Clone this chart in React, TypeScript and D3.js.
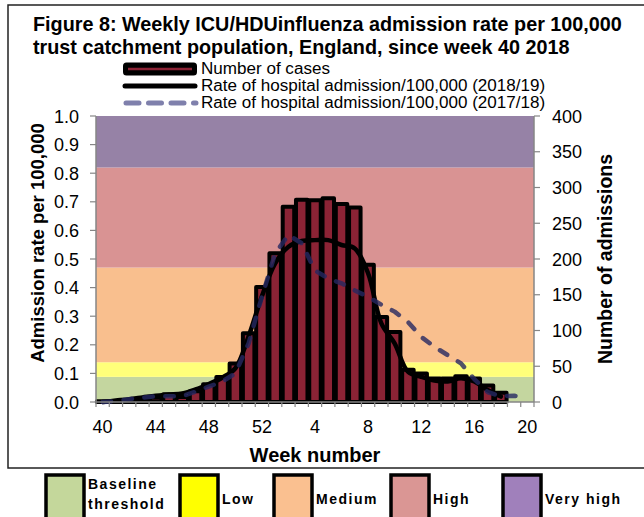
import React from "react";
import * as d3 from "d3";

// week categories, 2018/19 season
const weeks = [40, 41, 42, 43, 44, 45, 46, 47, 48, 49, 50, 51, 52, 1, 2, 3, 4, 5, 6, 7, 8, 9, 10, 11, 12, 13, 14, 15, 16, 17, 18, 19, 20];

// number of ICU/HDU admissions (right axis)
const cases = [1, 1, 2, 3, 6, 11, 7, 15, 25, 35, 54, 96, 161, 208, 273, 283, 282, 285, 277, 272, 192, 119, 98, 45, 40, 33, 33, 36, 33, 23, 13, null, null];

// rate per 100,000 (left axis)
const rate1819 = [0.0, 0.005, 0.01, 0.016, 0.022, 0.026, 0.03, 0.044, 0.063, 0.085, 0.118, 0.23, 0.37, 0.485, 0.543, 0.563, 0.566, 0.566, 0.549, 0.537, 0.45, 0.275, 0.205, 0.106, 0.088, 0.075, 0.072, 0.083, 0.072, 0.042, 0.019, null, null];
const rate1718 = [0.0, 0.003, 0.01, 0.015, 0.02, 0.02, 0.02, 0.036, 0.054, 0.071, 0.1, 0.205, 0.368, 0.52, 0.584, 0.555, 0.46, 0.432, 0.415, 0.39, 0.368, 0.34, 0.316, 0.28, 0.228, 0.193, 0.164, 0.135, 0.08, 0.035, 0.02, 0.022, 0.014];

// intensity thresholds (rate per 100,000)
const bandNames = ["Baseline threshold", "Low", "Medium", "High", "Very high"];
const bandEdges = [0, 0.088, 0.139, 0.47, 0.82, 1.0];
const bandFill = ["#c4d69f", "#ffff7a", "#f9bf8e", "#d99393", "#9682a6"];
const legendFill = ["#c4d79b", "#ffff00", "#fac090", "#da9694", "#a080bb"];

const seriesNames = ["Number of cases", "Rate of hospital admission/100,000 (2018/19)", "Rate of hospital admission/100,000 (2017/18)"];

const xLabels = ["40", "44", "48", "52", "4", "8", "12", "16", "20"];
const leftTicks = [0, 0.1, 0.2, 0.3, 0.4, 0.5, 0.6, 0.7, 0.8, 0.9, 1.0];
const rightTicks = [0, 50, 100, 150, 200, 250, 300, 350, 400];

const FONT = "Liberation Sans, Arial, sans-serif";
const AXIS = "#868686";

export default function App() {
  const left = 96, right = 534, top = 116, bottom = 402;

  const x = d3.scaleBand<string>().domain(weeks.map((w, i) => `${i}`)).range([left, right]).padding(0);
  const yRate = d3.scaleLinear().domain([0, 1]).range([bottom, top]);
  const yCount = d3.scaleLinear().domain([0, 400]).range([bottom, top]);
  const bw = x.bandwidth();
  const cx = (i: number) => (x(`${i}`) as number) + bw / 2;

  const solid = d3
    .line<number | null>()
    .defined((d) => d != null)
    .x((_, i) => cx(i))
    .y((d) => yRate(d as number))
    .curve(d3.curveCatmullRom.alpha(0.5));

  const dashed = d3
    .line<number | null>()
    .defined((d) => d != null)
    .x((_, i) => cx(i))
    .y((d) => yRate(d as number));

  const barW = 11.5;
  const legendY = [74, 91, 108];

  return (
    <svg width={644} height={517} style={{ position: "absolute", left: 0, top: 0, background: "#fff" }} fontFamily={FONT}>
      {/* outer frame */}
      <rect x={8} y={5} width={650} height={463} fill="#fff" stroke="#222" strokeWidth={1.5} />

      {/* title */}
      <text x={33} y={31} fontSize={19.8} fontWeight="bold" fill="#000">
        Figure 8: Weekly ICU/HDUinfluenza admission rate per 100,000
      </text>
      <text x={33} y={54} fontSize={19.8} fontWeight="bold" fill="#000">
        trust catchment population, England, since week 40 2018
      </text>

      {/* top legend */}
      <g>
        <rect x={124.5} y={64} width={71} height={10} fill="#000" stroke="#000" strokeWidth={3} rx={2} />
        <line x1={128} x2={192} y1={69} y2={69} stroke="#8b2335" strokeWidth={2.5} />
        <line x1={125} x2={195} y1={86} y2={86} stroke="#000" strokeWidth={5} strokeLinecap="round" />
        <line x1={126} x2={196} y1={103} y2={103} stroke="#7f80ac" strokeWidth={5} strokeLinecap="round" strokeDasharray="13 9.5" />
        {seriesNames.map((s, i) => (
          <text key={s} transform={`translate(201,${legendY[i]}) scale(1.08,1)`} fontSize={15.8}>{s}</text>
        ))}
      </g>

      {/* threshold bands */}
      {bandFill.map((c, i) => (
        <rect key={i} x={left} width={right - left} y={yRate(bandEdges[i + 1])} height={yRate(bandEdges[i]) - yRate(bandEdges[i + 1])} fill={c} />
      ))}

      {/* bars */}
      {cases.map((v, i) =>
        v == null ? null : (
          <rect key={i} x={cx(i) - barW / 2} width={barW} y={yCount(v)} height={yCount(0) - yCount(v)} fill="#8b2335" stroke="#000" strokeWidth={4} strokeLinejoin="round" />
        )
      )}

      {/* lines */}
      <path d={solid(rate1819) || ""} fill="none" stroke="#000" strokeWidth={4.5} strokeLinejoin="round" strokeLinecap="round" />
      <path d={dashed(rate1718) || ""} fill="none" stroke="#252861" strokeOpacity={0.8} strokeWidth={4.5} strokeLinecap="round" strokeLinejoin="round" strokeDasharray="8.5 12.5" />

      {/* axes */}
      <line x1={left} x2={left} y1={top} y2={bottom} stroke={AXIS} strokeWidth={1.5} />
      <line x1={right} x2={right} y1={top} y2={bottom} stroke={AXIS} strokeWidth={1.5} />
      <line x1={left} x2={right} y1={bottom} y2={bottom} stroke={AXIS} strokeWidth={1.5} />
      {leftTicks.map((t) => (
        <g key={t}>
          <line x1={left - 6} x2={left} y1={yRate(t)} y2={yRate(t)} stroke={AXIS} strokeWidth={1.2} />
          <text x={79} y={yRate(t) + 6.5} fontSize={18} textAnchor="end">{t.toFixed(1)}</text>
        </g>
      ))}
      {rightTicks.map((t) => (
        <g key={t}>
          <line x1={right} x2={right + 6} y1={yCount(t)} y2={yCount(t)} stroke={AXIS} strokeWidth={1.2} />
          <text x={552} y={yCount(t) + 6.5} fontSize={18}>{t}</text>
        </g>
      ))}
      {weeks.map((w, i) => (
        <line key={i} x1={x(`${i}`) as number} x2={x(`${i}`) as number} y1={bottom} y2={bottom + 5} stroke={AXIS} strokeWidth={1.2} />
      ))}
      <line x1={right} x2={right} y1={bottom} y2={bottom + 5} stroke={AXIS} strokeWidth={1.2} />
      {weeks.map((w, i) =>
        xLabels.includes(`${w}`) ? (
          <text key={i} x={cx(i)} y={433} fontSize={18} textAnchor="middle">{w}</text>
        ) : null
      )}

      {/* axis titles */}
      <text transform="translate(44,243) rotate(-90)" fontSize={18.5} fontWeight="bold" textAnchor="middle">Admission rate per 100,000</text>
      <text transform="translate(612,259) rotate(-90)" fontSize={19.5} fontWeight="bold" textAnchor="middle">Number of admissions</text>
      <text x={315} y={462} fontSize={20} fontWeight="bold" textAnchor="middle">Week number</text>

      {/* intensity legend */}
      {bandNames.map((n, i) => {
        const bx = [46, 180, 274, 391, 503][i];
        const lines = n === "Baseline threshold" ? ["Baseline", "threshold"] : [n];
        return (
          <g key={n}>
            <rect x={bx} y={475} width={38} height={50} fill={legendFill[i]} stroke="#000" strokeWidth={3.5} />
            {lines.map((l, j) => (
              <text key={l} x={bx + 42} y={lines.length > 1 ? 489 + j * 19.5 : 504} fontSize={14} fontWeight="bold" letterSpacing={1.5}>{l}</text>
            ))}
          </g>
        );
      })}
    </svg>
  );
}
